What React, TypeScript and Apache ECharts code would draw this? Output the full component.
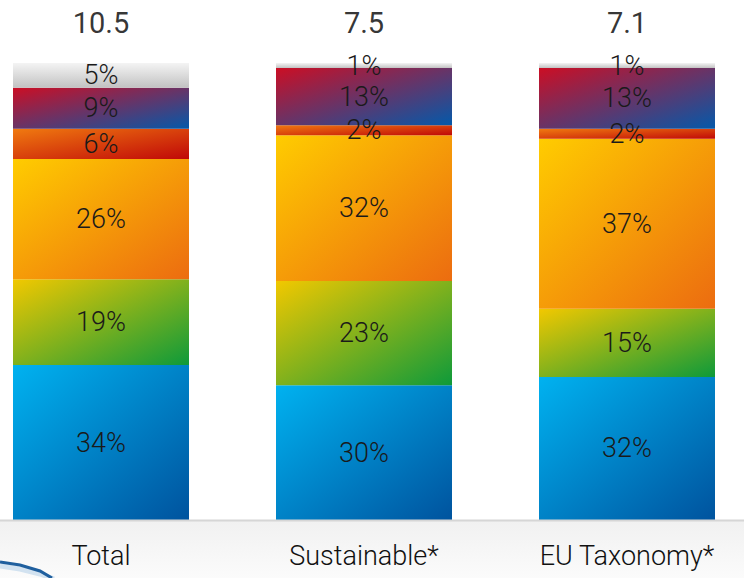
import React, { useEffect, useRef } from "react";
import * as echarts from "echarts";

const categories = ["Total", "Sustainable*", "EU Taxonomy*"];
const totals = [10.5, 7.5, 7.1];
// segment shares (bottom to top), per category
const blueShare = [33.9, 29.5, 31.3];
const greenShare = [18.8, 22.8, 14.9];
const yellowShare = [26.3, 31.9, 37.2];
const orangeShare = [6.6, 2.2, 2.2];
const purpleShare = [9.0, 12.5, 13.3];
const grayShare = [5.4, 1.1, 1.1];
// displayed labels
const blueLabel = [34, 30, 32];
const greenLabel = [19, 23, 15];
const yellowLabel = [26, 32, 37];
const orangeLabel = [6, 2, 2];
const purpleLabel = [9, 13, 13];
const grayLabel = [5, 1, 1];

const diag = (a: string, b: string) =>
  new echarts.graphic.LinearGradient(0, 0, 1, 1, [
    { offset: 0, color: a },
    { offset: 1, color: b },
  ]);
const vert = (a: string, b: string) =>
  new echarts.graphic.LinearGradient(0, 0, 0, 1, [
    { offset: 0, color: a },
    { offset: 1, color: b },
  ]);

const FONT = "Roboto, 'Open Sans', sans-serif";
const LIGHT = "'Roboto Light', Roboto, 'Open Sans', sans-serif";

export default function App() {
  const ref = useRef<HTMLDivElement>(null);
  useEffect(() => {
    if (!ref.current) return;
    const chart = echarts.init(ref.current, null, { renderer: "svg" });
    const mk = (name: string, data: number[], labels: number[], color: any) => ({
      name,
      type: "bar",
      stack: "s",
      barWidth: 176,
      data,
      itemStyle: { color },
      label: {
        show: true,
        position: "inside",
        fontFamily: LIGHT,
        fontWeight: 300,
        fontSize: 27,
        color: "#1a1a1a",
        formatter: (p: any) => labels[p.dataIndex] + "%",
      },
      emphasis: { disabled: true },
    });
    chart.setOption({
      animation: false,
      backgroundColor: "#ffffff",
      grid: { left: 101, right: 117, top: 63, bottom: 58 },
      xAxis: {
        type: "category",
        data: categories,
        boundaryGap: false,
        axisLine: { show: false },
        axisTick: { show: false },
        axisLabel: {
          fontFamily: LIGHT,
          fontWeight: 300,
          fontSize: 27,
          color: "#111",
          margin: 22,
        },
      },
      yAxis: { type: "value", min: 0, max: 100, show: false },
      graphic: [
        {
          type: "rect",
          left: 0,
          top: 521,
          shape: { width: 744, height: 57 },
          style: {
            fill: new echarts.graphic.LinearGradient(0, 0, 0, 1, [
              { offset: 0, color: "#f1f1f1" },
              { offset: 1, color: "#fbfbfb" },
            ]),
          },
          z: -10,
        },
        {
          type: "line",
          shape: { x1: 0, y1: 520.5, x2: 744, y2: 520.5 },
          style: { stroke: "#d6d6d6", lineWidth: 2 },
          z: 10,
        },
        {
          type: "polyline",
          shape: { points: [[0, 566], [20, 569], [40, 574], [54, 579]] },
          style: { stroke: "#d2e2f0", lineWidth: 5, fill: null },
          z: 9,
        },
        {
          type: "polyline",
          shape: { points: [[0, 562], [20, 565], [40, 571], [52, 578]] },
          style: { stroke: "#1f5f9e", lineWidth: 3, fill: null },
          z: 10,
        },
      ],
      series: [
        mk("blue", blueShare, blueLabel, diag("#00b2f0", "#00539e")),
        mk("green", greenShare, greenLabel, diag("#f2c800", "#0e9a3a")),
        mk("yellow", yellowShare, yellowLabel, diag("#ffcc00", "#ec6c10")),
        mk("orange", orangeShare, orangeLabel, diag("#f07a10", "#c00808")),
        mk("purple", purpleShare, purpleLabel, diag("#cc0e24", "#0459aa")),
        mk("gray", grayShare, grayLabel, vert("#f4f4f4", "#c2c2c2")),
        {
          name: "total",
          type: "scatter",
          data: totals.map(() => 100),
          symbolSize: 0,
          label: {
            show: true,
            position: "top",
            distance: 26,
            fontFamily: FONT,
            fontWeight: 400,
            fontSize: 29,
            color: "#000",
            formatter: (p: any) => String(totals[p.dataIndex]),
          },
          emphasis: { disabled: true },
        },
      ],
    });
    return () => chart.dispose();
  }, []);
  return (
    <div
      ref={ref}
      style={{ position: "fixed", left: 0, top: 0, width: 744, height: 578 }}
    />
  );
}
